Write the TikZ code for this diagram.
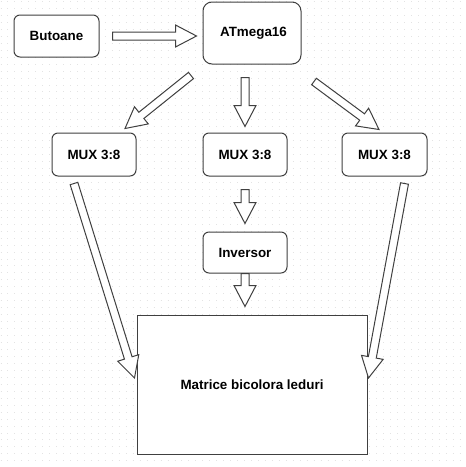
\documentclass[tikz,border=0pt]{standalone}
\usepackage{xcolor}
\usepackage{fontspec}
\setmainfont{Liberation Sans}
\usepackage{tikz}
\usetikzlibrary{calc}

\tikzset{
    box/.style={draw=black!75, fill=white, line width=1pt, rounded corners=6pt,
        font=\bfseries\fontsize{13.4}{15}\selectfont},
    blockarrow/.style={draw=black!75, fill=white, line width=1pt, line join=miter},
    griddots/.style={black!11, line width=1pt, dash pattern=on 1pt off 5.96pt}
}

% hollow block arrow from #1 to #2
\newcommand\hollowarrow[2]{%
    \coordinate (hb) at ($(#2)!21pt!(#1)$);
    \draw[blockarrow] ($(#1)!4pt!-90:(#2)$) -- ($(hb)!4pt!90:(#1)$) -- ($(hb)!11pt!90:(#1)$)
        -- (#2) -- ($(hb)!11pt!-90:(#1)$) -- ($(hb)!4pt!-90:(#1)$) -- ($(#1)!4pt!90:(#2)$) -- cycle;
}

\begin{document}
\begin{tikzpicture}[x=1pt, y=-1pt]
    \fill[white] (0,0) rectangle (466,467);
    \useasboundingbox (0,0) rectangle (466,467);
    % dotted grid
    \foreach \i in {0,...,66}
        \draw[griddots] (0.5,1.5+6.96*\i) -- (466,1.5+6.96*\i);

    % Top row
    \node[box, minimum width=85, minimum height=42] (but) at (56.5,36) {Butoane};
    \node[box, rounded corners=9pt, minimum width=98, minimum height=62] (atm) at (252,33) {\hspace*{3pt}ATmega16};

    % MUX row
    \node[box, minimum width=84, minimum height=43] (mux1) at (94,154.5) {MUX 3:8};
    \node[box, minimum width=84, minimum height=43] (mux2) at (245,154.5) {MUX 3:8};
    \node[box, minimum width=85, minimum height=43] (mux3) at (384.5,154.5) {MUX 3:8};

    \node[box, minimum width=84, minimum height=41] (inv) at (245,252.5) {Inversor};
    \node[box, rounded corners=0pt, minimum width=230, minimum height=139] (mat) at (252,384.5) {Matrice bicolora leduri};

    % arrow ends
    \coordinate (a1) at ($(but.east)+(13,0)$);
    \coordinate (b1) at ($(atm.west)+(-6,3)$);
    \coordinate (a2) at ($(atm.south)+(-61,11)$);
    \coordinate (b2) at ($(mux1.north)+(31,-4)$);
    \coordinate (a3) at ($(atm.south)+(-7,13)$);
    \coordinate (b3) at ($(mux2.north)+(0,-6)$);
    \coordinate (a4) at ($(atm.south)+(62,17)$);
    \coordinate (b4) at ($(mux3.north)+(-5.5,-3)$);
    \coordinate (a5) at ($(mux2.south)+(0,13)$);
    \coordinate (b5) at ($(inv.north)+(0,-8)$);
    \coordinate (a6) at (inv.south);
    \coordinate (b6) at ($(mat.north)+(-7,-8)$);
    \coordinate (a7) at ($(mux1.south)+(-20,7)$);
    \coordinate (b7) at ($(mat.west)+(-2,-6.5)$);
    \coordinate (a8) at ($(mux3.south)+(20,7)$);
    \coordinate (b8) at ($(mat.east)+(1,-6.5)$);

    \foreach \k in {1,...,8} {
        \hollowarrow{a\k}{b\k}
    }
\end{tikzpicture}
\end{document}
